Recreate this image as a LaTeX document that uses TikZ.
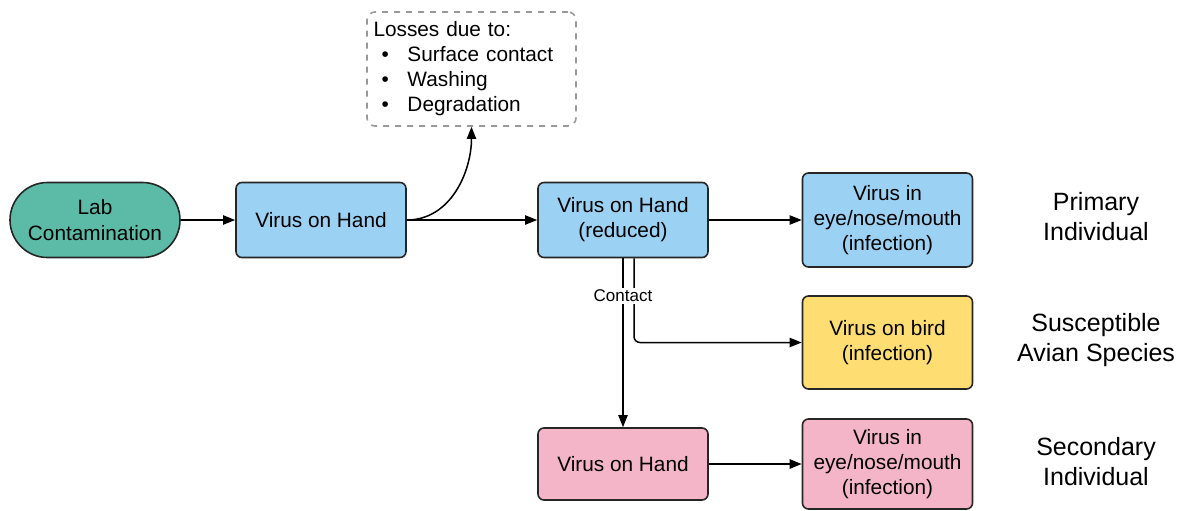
\documentclass[tikz,border=0pt]{standalone}
\usepackage{fontspec}
\setmainfont{Liberation Sans}
\usetikzlibrary{arrows.meta, calc, positioning}

\definecolor{labgreen}{HTML}{5CBBA6}
\definecolor{handblue}{HTML}{9BD1F2}
\definecolor{birdyellow}{HTML}{FEDD73}
\definecolor{secpink}{HTML}{F4B5C8}

\begin{document}
\begin{tikzpicture}[
    x=0.5pt, y=-0.5pt,
    font=\fontsize{10.4}{12.6}\selectfont,
    box/.style={draw=black!85, line width=0.8pt, rounded corners=3pt,
        minimum width=85pt, align=center, inner sep=2pt},
    flow/.style={-{Triangle[length=6pt,width=4.6pt]}, line width=0.75pt, black},
    grouplabel/.style={font=\fontsize{12.5}{15}\selectfont, align=center}
]
\useasboundingbox (0,0) rectangle (1178,510);
%
\node[box, fill=labgreen, minimum height=37.5pt, rounded corners=18.75pt]
    (lab) at (95,220) {Lab\\Contamination};
\node[box, fill=handblue, minimum height=37.5pt] (hand) at (321,220) {Virus on Hand};
\node[box, fill=handblue, minimum height=37.5pt] (reduced) at (623,220) {Virus on Hand\\(reduced)};
\node[box, fill=handblue, minimum height=47pt] (eyeone) at (887.5,220)
    {Virus in\\eye/nose/mouth\\(infection)};
\node[box, fill=birdyellow, minimum height=46.5pt] (bird) at (887.5,342.5)
    {Virus on bird\\(infection)};
\node[box, fill=secpink, minimum height=36pt] (handtwo) at (623,464) {Virus on Hand};
\node[box, fill=secpink, minimum height=45pt] (eyetwo) at (887.5,464)
    {Virus in\\eye/nose/mouth\\(infection)};
%
\node[draw=black!40, dashed, line width=0.8pt, rounded corners=4pt,
    minimum width=104.5pt, minimum height=57pt, text width=98pt, align=left,
    font=\fontsize{10.4}{12.5}\selectfont, inner sep=3pt]
    (losses) at (471.5,69) {Losses due to:\\
    \makebox[17pt][l]{\hspace{4pt}\textbullet}Surface contact\\
    \makebox[17pt][l]{\hspace{4pt}\textbullet}Washing\\
    \makebox[17pt][l]{\hspace{4pt}\textbullet}Degradation};
%
\node[grouplabel] (primary) at (1096,217) {Primary\\Individual};
\node[grouplabel] (avian) at (1096,340) {Susceptible\\Avian Species};
\node[grouplabel] (secondary) at (1096,462) {Secondary\\Individual};
%
\draw[flow] (lab) -- (hand);
\draw[flow] (hand) -- (reduced);
\draw[flow] (hand.east) to[out=0, in=-90] (losses.south);
\draw[flow] (reduced) -- (eyeone);
\draw[flow] (reduced.south) -- (handtwo.north);
\draw[flow, rounded corners=3pt] ([xshift=5.5pt]reduced.south) |- (bird.west);
\draw[flow, line width=1pt] (handtwo) -- (eyetwo);
\node[fill=white, inner sep=1pt, font=\fontsize{8.5}{10}\selectfont]
    (contact) at (623,296) {Contact};
\end{tikzpicture}
\end{document}
